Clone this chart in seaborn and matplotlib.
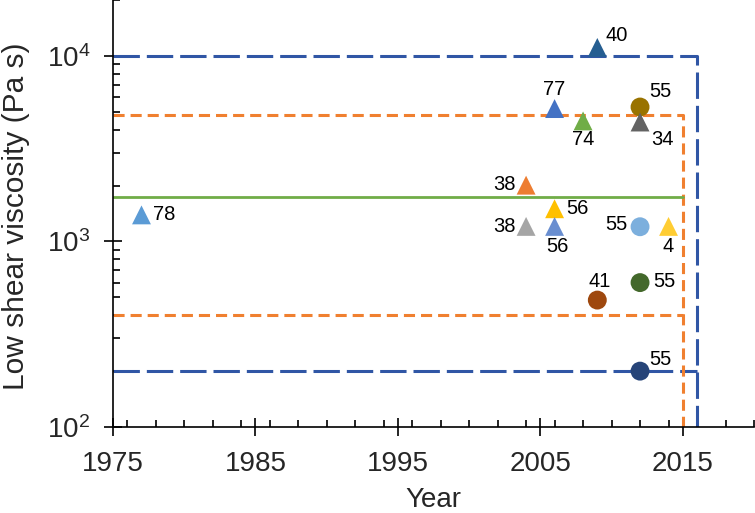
import matplotlib
matplotlib.use("Agg")
import matplotlib.pyplot as plt
import matplotlib.ticker as mticker
import seaborn as sns
import pandas as pd

# ---- data ----
years = [1977, 2009, 2006, 2008, 2012, 2012, 2004, 2006, 2004, 2006, 2012, 2014, 2009, 2012, 2012]
viscosity = [1390, 11100, 5200, 4460, 5300, 4400, 2010, 1500, 1205, 1205, 1200, 1205, 483, 600, 200]
refs = ["78", "40", "77", "74", "55", "34", "38", "56", "38", "56", "55", "4", "41", "55", "55"]
shapes = ["triangle", "triangle", "triangle", "triangle", "circle", "triangle", "triangle",
          "triangle", "triangle", "triangle", "circle", "triangle", "circle", "circle", "circle"]

blue_range = [200, 10000]
blue_end_year = 2016
orange_range = [400, 4800]
orange_end_year = 2015
green_level = 1730
green_end_year = 2015
start_year = 1975

x_ticks = [1975, 1985, 1995, 2005, 2015]

# ---- styles ----
point_colors = ["#5B9BD5", "#255E91", "#4472C4", "#70AD47", "#997300", "#636363", "#ED7D31",
                "#FFC000", "#A5A5A5", "#698ED0", "#7CAFDD", "#FFCD33", "#9E480E", "#43682B", "#264478"]
label_offsets = [(12, 0, "left"), (8, 12, "left"), (0, 19, "center"), (0, -19, "center"),
                 (9, 16, "left"), (11, -17, "left"), (-10, 1, "right"), (12, 0, "left"),
                 (-10, 0, "right"), (3, -20, "center"), (-13, 2, "right"), (0, -20, "center"),
                 (2, 19, "center"), (13, 1, "left"), (9, 12, "left")]

sns.set_theme(style="ticks")
plt.rcParams["font.family"] = ["Liberation Sans", "DejaVu Sans"]
plt.rcParams["mathtext.fontset"] = "custom"
plt.rcParams["mathtext.rm"] = "Liberation Sans"
plt.rcParams["mathtext.it"] = "Liberation Sans"
plt.rcParams["mathtext.default"] = "regular"
plt.rcParams["lines.scale_dashes"] = False

fig = plt.figure(figsize=(7.55, 5.13), dpi=100)
ax = fig.add_axes([113 / 755, 1 - 427 / 513, (754 - 113) / 755, 427 / 513])

BLUE = "#3056A5"
ORANGE = "#F08030"
GREEN = "#70AD47"
lw = 2.2
ybot = 100

ax.plot([start_year, blue_end_year, blue_end_year], [blue_range[1], blue_range[1], ybot],
        color=BLUE, lw=lw, dashes=(19, 5), zorder=2)
ax.plot([start_year, blue_end_year], [blue_range[0], blue_range[0]],
        color=BLUE, lw=lw, dashes=(19, 5), zorder=2)
ax.plot([start_year, orange_end_year, orange_end_year], [orange_range[1], orange_range[1], ybot],
        color=ORANGE, lw=lw, dashes=(8, 4.3), zorder=2)
ax.plot([start_year, orange_end_year], [orange_range[0], orange_range[0]],
        color=ORANGE, lw=lw, dashes=(8, 4.3), zorder=2)
ax.plot([start_year, green_end_year], [green_level, green_level], color=GREEN, lw=2.0, zorder=2)

df = pd.DataFrame({"year": years, "visc": viscosity, "id": [f"p{i}" for i in range(len(years))],
                   "shape": shapes})
palette = {f"p{i}": c for i, c in enumerate(point_colors)}
sns.scatterplot(data=df, x="year", y="visc", hue="id", style="shape", palette=palette,
                markers={"triangle": "^", "circle": "o"}, s=185, linewidth=0,
                legend=False, ax=ax, zorder=3)

for x, y, t, (dx, dy, ha) in zip(years, viscosity, refs, label_offsets):
    ax.annotate(t, (x, y), xytext=(dx, dy), textcoords="offset pixels",
                ha=ha, va="center", fontsize=14.5, color="black", zorder=4)

ax.set_yscale("log")
ax.set_xlim(1975, 2020)
ax.set_ylim(100, 20000)
ax.set_xticks(x_ticks)
ax.xaxis.set_minor_locator(mticker.MultipleLocator(2))
ax.yaxis.set_major_locator(mticker.LogLocator(base=10, numticks=10))
ax.yaxis.set_minor_locator(mticker.LogLocator(base=10, subs=range(2, 10), numticks=20))
ax.yaxis.set_major_formatter(mticker.LogFormatterSciNotation())
ax.yaxis.set_minor_formatter(mticker.NullFormatter())

for s in ["top", "right"]:
    ax.spines[s].set_visible(False)
for s in ["left", "bottom"]:
    ax.spines[s].set_linewidth(1.2)
    ax.spines[s].set_color("black")

ax.tick_params(which="major", direction="inout", length=12.5, width=1.2, color="black",
               labelsize=20)
ax.tick_params(axis="x", which="major", pad=11)
ax.tick_params(axis="y", which="major", pad=10)
ax.tick_params(which="minor", direction="in", length=5, width=1.2, color="black")

ax.set_xlabel("Year", fontsize=20, labelpad=7)
ax.set_ylabel("Low shear viscosity (Pa s)", fontsize=21.5)
ax.yaxis.set_label_coords((30 - 113) / 641, (427 - 216) / 427)
ax.grid(False)

fig.savefig("out.png", dpi=100)
